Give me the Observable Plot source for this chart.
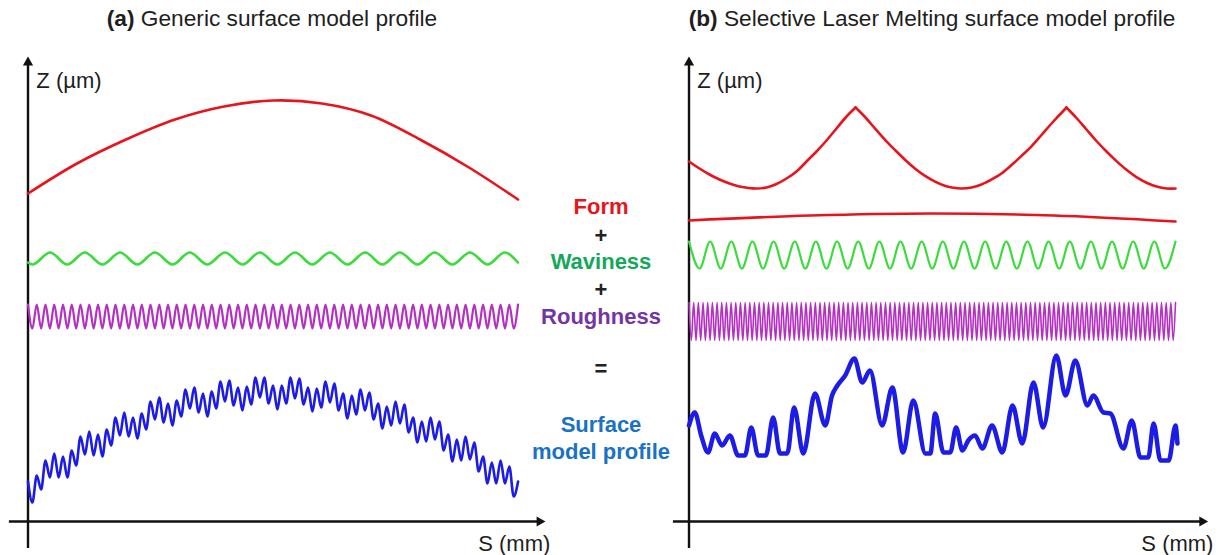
<!DOCTYPE html>
<html>
<head>
<meta charset="utf-8">
<script src="https://cdn.jsdelivr.net/npm/d3@7"></script>
<script src="https://cdn.jsdelivr.net/npm/@observablehq/plot@0.6"></script>
<style>
  body { margin: 0; background: #fff; }
  #wrap { position: relative; width: 1229px; height: 555px; overflow: hidden; background: #fff;
          font-family: "Liberation Sans", Arial, sans-serif; }
  .title { position: absolute; top: 5px; font-size: 22.7px; color: #1e1e1e; white-space: nowrap;
           transform: translateX(-50%); line-height: normal; }
  .mid { position: absolute; left: 601px; transform: translate(-50%, -50%); font-weight: bold;
         font-size: 22px; white-space: nowrap; line-height: 1; }
  #pa, #pb { position: absolute; top: 35px; }
  #pa { left: 0; }
  #pb { left: 665px; }
</style>
</head>
<body>
<div id="wrap">
  <div class="title" style="left:272px"><b>(a)</b> Generic surface model profile</div>
  <div class="title" style="left:932px"><b>(b)</b> Selective Laser Melting surface model profile</div>
  <div class="mid" style="top:207px;color:#e8141c">Form</div>
  <div class="mid" style="top:236px;color:#222">+</div>
  <div class="mid" style="top:262px;color:#13a85a">Waviness</div>
  <div class="mid" style="top:290px;color:#222">+</div>
  <div class="mid" style="top:317px;color:#7534a6">Roughness</div>
  <div class="mid" style="top:369px;color:#222">=</div>
  <div class="mid" style="top:425px;color:#1a72c4">Surface</div>
  <div class="mid" style="top:452px;color:#1a72c4">model profile</div>
  <div id="pa"></div>
  <div id="pb"></div>
</div>
<script>
// ---------- Panel (a): generic surface model profile ----------
// S in mm, Z in µm (arbitrary profile units)
const formAS = [0, 1, 2, 3, 4, 5, 6, 7, 8, 9, 10];
const formAZ = [32.8, 35.8, 38.2, 40.2, 41.5, 42.1, 41.8, 40.6, 38.2, 35.4, 32.2];

const wavAS = [0, 0.09, 0.45, 0.80, 1.16, 1.52, 1.88, 2.23, 2.59, 2.95, 3.30, 3.66, 4.02, 4.38, 4.73,
               5.09, 5.45, 5.80, 6.16, 6.52, 6.88, 7.23, 7.59, 7.95, 8.30, 8.66, 9.02, 9.38, 9.73, 10.0];
const wavAZ = [25.9, 25.7, 26.9, 25.7, 26.9, 25.7, 26.9, 25.7, 26.9, 25.7, 26.9, 25.7, 26.9, 25.7, 26.9,
               25.7, 26.9, 25.7, 26.9, 25.7, 26.9, 25.7, 26.9, 25.7, 26.9, 25.7, 26.9, 25.7, 26.9, 25.9];

// roughness extrema, spaced by half a roughness pitch
const roughAStep = 0.0893;
const roughAZ = [
  21.7, 19.3, 21.7, 19.3, 21.7, 19.3, 21.7, 19.3, 21.7, 19.3, 21.7, 19.3, 21.7, 19.3,
  21.7, 19.3, 21.7, 19.3, 21.7, 19.3, 21.7, 19.3, 21.7, 19.3, 21.7, 19.3, 21.7, 19.3,
  21.7, 19.3, 21.7, 19.3, 21.7, 19.3, 21.7, 19.3, 21.7, 19.3, 21.7, 19.3, 21.7, 19.3,
  21.7, 19.3, 21.7, 19.3, 21.7, 19.3, 21.7, 19.3, 21.7, 19.3, 21.7, 19.3, 21.7, 19.3,
  21.7, 19.3, 21.7, 19.3, 21.7, 19.3, 21.7, 19.3, 21.7, 19.3, 21.7, 19.3, 21.7, 19.3,
  21.7, 19.3, 21.7, 19.3, 21.7, 19.3, 21.7, 19.3, 21.7, 19.3, 21.7, 19.3, 21.7, 19.3,
  21.7, 19.3, 21.7, 19.3, 21.7, 19.3, 21.7, 19.3, 21.7, 19.3, 21.7, 19.3, 21.7, 19.3,
  21.7, 19.3, 21.7, 19.3, 21.7, 19.3, 21.7, 19.3, 21.7, 19.3, 21.7, 19.3, 21.7, 19.3,
  21.7];

// surface model profile extrema, same spacing as the roughness
const surfAStep = 0.0893;
const surfAZ = [
  4.0, 1.9, 4.6, 3.2, 6.1, 4.4, 6.8, 4.4, 6.5, 4.4,
  7.1, 5.6, 8.5, 6.7, 9.0, 6.6, 8.7, 6.5, 9.2, 7.6,
  10.4, 8.6, 10.9, 8.5, 10.4, 8.3, 10.8, 9.2, 12.0, 10.2,
  12.4, 9.9, 11.8, 9.6, 12.1, 10.5, 13.2, 11.3, 13.4, 10.9,
  12.8, 10.5, 13.0, 11.3, 14.0, 12.0, 14.1, 11.6, 13.4, 11.1,
  13.5, 11.7, 14.4, 12.4, 14.4, 11.8, 13.6, 11.2, 13.6, 11.8,
  14.4, 12.3, 14.3, 11.7, 13.4, 11.0, 13.3, 11.4, 14.0, 11.9,
  13.8, 11.1, 12.8, 10.3, 12.6, 10.7, 13.2, 11.1, 12.9, 10.2,
  11.8, 9.3, 11.5, 9.6, 12.0, 9.8, 11.7, 8.9, 10.4, 7.9,
  10.0, 8.0, 10.4, 8.2, 10.0, 7.1, 8.7, 6.0, 8.2, 6.1,
  8.5, 6.2, 7.9, 5.0, 6.5, 3.8, 5.9, 3.8, 6.1, 3.8,
  5.5, 2.5, 4.0];

// ---------- Panel (b): Selective Laser Melting surface model profile ----------
// form made of three arcs meeting in cusps
const formBArcS = [
  [0, 0.216, 0.421, 0.627, 0.832, 1.038, 1.223, 1.388, 1.593, 1.799, 2.004, 2.210, 2.415, 2.621, 2.826, 3.032, 3.238, 3.423],
  [3.423, 3.628, 3.834, 4.039, 4.245, 4.450, 4.656, 4.861, 5.067, 5.272, 5.437, 5.601, 5.807, 6.012, 6.218, 6.423, 6.629, 6.835, 7.040, 7.246, 7.451, 7.605, 7.759],
  [7.759, 7.965, 8.170, 8.376, 8.581, 8.787, 8.992, 9.198, 9.404, 9.609, 9.815, 10.0]
];
const formBArcZ = [
  [36.0, 35.3, 34.7, 34.2, 33.8, 33.5, 33.35, 33.3, 33.4, 33.75, 34.3, 35.0, 36.0, 37.0, 38.1, 39.3, 40.5, 41.4],
  [41.4, 40.4, 39.24, 38.12, 37.1, 36.13, 35.26, 34.53, 33.96, 33.55, 33.37, 33.3, 33.4, 33.7, 34.2, 34.8, 35.64, 36.56, 37.52, 38.65, 39.8, 40.6, 41.4],
  [41.4, 40.35, 39.2, 38.05, 37.0, 36.04, 35.17, 34.44, 33.88, 33.5, 33.3, 33.3]
];
const form2BS = [0, 2.5, 5.0, 7.5, 10.0];
const form2BZ = [30.1, 30.6, 30.8, 30.6, 30.0];

const wavBStep = 0.2174;
const wavBZ = [
  28.0, 25.3, 28.0, 25.3, 28.0, 25.3, 28.0, 25.3, 28.0, 25.3, 28.0, 25.3,
  28.0, 25.3, 28.0, 25.3, 28.0, 25.3, 28.0, 25.3, 28.0, 25.3, 28.0, 25.3,
  28.0, 25.3, 28.0, 25.3, 28.0, 25.3, 28.0, 25.3, 28.0, 25.3, 28.0, 25.3,
  28.0, 25.3, 28.0, 25.3, 28.0, 25.3, 28.0, 25.3, 28.0, 25.3, 28.0];

const roughBStep = 0.04808;
const roughBZ = [
  21.9, 18.1, 21.9, 18.1, 21.9, 18.1, 21.9, 18.1, 21.9, 18.1, 21.9, 18.1, 21.9, 18.1, 21.9, 18.1,
  21.9, 18.1, 21.9, 18.1, 21.9, 18.1, 21.9, 18.1, 21.9, 18.1, 21.9, 18.1, 21.9, 18.1, 21.9, 18.1,
  21.9, 18.1, 21.9, 18.1, 21.9, 18.1, 21.9, 18.1, 21.9, 18.1, 21.9, 18.1, 21.9, 18.1, 21.9, 18.1,
  21.9, 18.1, 21.9, 18.1, 21.9, 18.1, 21.9, 18.1, 21.9, 18.1, 21.9, 18.1, 21.9, 18.1, 21.9, 18.1,
  21.9, 18.1, 21.9, 18.1, 21.9, 18.1, 21.9, 18.1, 21.9, 18.1, 21.9, 18.1, 21.9, 18.1, 21.9, 18.1,
  21.9, 18.1, 21.9, 18.1, 21.9, 18.1, 21.9, 18.1, 21.9, 18.1, 21.9, 18.1, 21.9, 18.1, 21.9, 18.1,
  21.9, 18.1, 21.9, 18.1, 21.9, 18.1, 21.9, 18.1, 21.9, 18.1, 21.9, 18.1, 21.9, 18.1, 21.9, 18.1,
  21.9, 18.1, 21.9, 18.1, 21.9, 18.1, 21.9, 18.1, 21.9, 18.1, 21.9, 18.1, 21.9, 18.1, 21.9, 18.1,
  21.9, 18.1, 21.9, 18.1, 21.9, 18.1, 21.9, 18.1, 21.9, 18.1, 21.9, 18.1, 21.9, 18.1, 21.9, 18.1,
  21.9, 18.1, 21.9, 18.1, 21.9, 18.1, 21.9, 18.1, 21.9, 18.1, 21.9, 18.1, 21.9, 18.1, 21.9, 18.1,
  21.9, 18.1, 21.9, 18.1, 21.9, 18.1, 21.9, 18.1, 21.9, 18.1, 21.9, 18.1, 21.9, 18.1, 21.9, 18.1,
  21.9, 18.1, 21.9, 18.1, 21.9, 18.1, 21.9, 18.1, 21.9, 18.1, 21.9, 18.1, 21.9, 18.1, 21.9, 18.1,
  21.9, 18.1, 21.9, 18.1, 21.9, 18.1, 21.9, 18.1, 21.9, 18.1, 21.9, 18.1, 21.9, 18.1, 21.9, 18.1,
  21.9];

const surfBS = [0, 0.12, 0.25, 0.39, 0.53, 0.68, 0.84, 1.01, 1.15, 1.28, 1.42, 1.58, 1.73, 1.87, 2.02,
  2.16, 2.35, 2.59, 2.80, 2.94, 3.05, 3.21, 3.40, 3.56, 3.72, 3.97, 4.18, 4.40, 4.61, 4.86, 4.96,
  5.06, 5.23, 5.37, 5.49, 5.62, 5.74, 5.88, 6.03, 6.23, 6.44, 6.65, 6.85, 7.08, 7.28, 7.55, 7.74,
  7.94, 8.19, 8.31, 8.52, 8.66, 8.93, 9.10, 9.28, 9.44, 9.55, 9.69, 9.86, 10.0, 10.04];
const surfBZ = [9.6, 10.9, 8.6, 6.9, 8.8, 7.6, 8.6, 6.6, 6.6, 9.4, 6.6, 6.6, 10.4, 6.8, 6.8,
  11.4, 6.8, 12.8, 9.6, 12.6, 13.6, 14.6, 16.3, 13.9, 15.1, 9.6, 13.4, 6.9, 12.1, 6.8, 6.8,
  10.8, 6.9, 6.9, 9.4, 7.1, 8.1, 8.6, 7.3, 9.6, 6.9, 11.6, 7.8, 13.9, 9.4, 16.6, 12.6,
  16.1, 11.6, 12.6, 10.9, 10.8, 7.3, 10.1, 6.4, 6.4, 9.8, 6.1, 6.1, 9.6, 7.8];

// axis labels
const zLabel = "Z (µm)";
const sLabel = "S (mm)";

// ---------- drawing ----------
const FONT = '"Liberation Sans", Arial, sans-serif';
const RED = "#e8141c", GREEN = "#3cdc3c", MAGENTA = "#b52fc2", BLUE = "#1c1ce6", INK = "#111";
const zDomain = [-3.4, 48.6];      // 10 px per µm, 520 px tall
const zAxis = [-2.7, 45.9];        // extent of the vertical axis arrow

const pts = (S, Z) => S.map((s, i) => ({S: s, Z: Z[i]}));
const stepped = (Z, step) => Z.map((z, i) => ({S: i * step, Z: z}));

function axes(sAxis, labelS) {
  return [
    Plot.ruleX([{S: 0, z1: zAxis[0], z2: zAxis[1]}], {x: "S", y1: "z1", y2: "z2", stroke: INK, strokeWidth: 2.4}),
    Plot.ruleY([{Z: 0, s1: sAxis[0], s2: sAxis[1]}], {y: "Z", x1: "s1", x2: "s2", stroke: INK, strokeWidth: 2.4}),
    Plot.dot([{S: 0, Z: zAxis[1]}], {x: "S", y: "Z", symbol: "triangle", r: 3.8, fill: INK, stroke: "none"}),
    Plot.dot([{S: sAxis[1], Z: 0}], {x: "S", y: "Z", symbol: "triangle", r: 3.8, fill: INK, stroke: "none", rotate: 90}),
    Plot.text([{S: 0.17, Z: 44.1, t: zLabel}], {x: "S", y: "Z", text: "t", textAnchor: "start", fontSize: 22, fill: "#1e1e1e"}),
    Plot.text([{S: labelS, Z: -2.2, t: sLabel}], {x: "S", y: "Z", text: "t", textAnchor: "end", fontSize: 22, fill: "#1e1e1e"})
  ];
}

const plotA = Plot.plot({
  width: 560, height: 520, margin: 0,
  x: {domain: [-27.5 / 49, (560 - 27.5) / 49], axis: null},
  y: {domain: zDomain, axis: null},
  style: {fontFamily: FONT, background: "transparent", overflow: "visible"},
  marks: [
    ...axes([-0.38, 10.44], 10.66),
    Plot.line(pts(formAS, formAZ), {x: "S", y: "Z", stroke: RED, strokeWidth: 2.6, curve: "catmull-rom"}),
    Plot.line(pts(wavAS, wavAZ), {x: "S", y: "Z", stroke: GREEN, strokeWidth: 2.6, curve: "monotone-x"}),
    Plot.line(stepped(roughAZ, roughAStep), {x: "S", y: "Z", stroke: MAGENTA, strokeWidth: 2.2, curve: "monotone-x"}),
    Plot.line(stepped(surfAZ, surfAStep), {x: "S", y: "Z", stroke: BLUE, strokeWidth: 2.6, curve: "monotone-x"})
  ]
});
document.getElementById("pa").appendChild(plotA);

const arcs = formBArcS.flatMap((S, k) => S.map((s, i) => ({S: s, Z: formBArcZ[k][i], arc: k})));

const plotB = Plot.plot({
  width: 564, height: 520, margin: 0,
  x: {domain: [(665 - 688.5) / 48.65, (1229 - 688.5) / 48.65], axis: null},
  y: {domain: zDomain, axis: null},
  style: {fontFamily: FONT, background: "transparent", overflow: "visible"},
  marks: [
    ...axes([-0.32, 10.55], 10.78),
    Plot.line(arcs, {x: "S", y: "Z", z: "arc", stroke: RED, strokeWidth: 2.6, curve: "catmull-rom"}),
    Plot.line(pts(form2BS, form2BZ), {x: "S", y: "Z", stroke: RED, strokeWidth: 2.6, curve: "catmull-rom"}),
    Plot.line(stepped(wavBZ, wavBStep), {x: "S", y: "Z", stroke: GREEN, strokeWidth: 2.2, curve: "monotone-x"}),
    Plot.line(stepped(roughBZ, roughBStep), {x: "S", y: "Z", stroke: MAGENTA, strokeWidth: 1.6, curve: "monotone-x"}),
    Plot.line(pts(surfBS, surfBZ), {x: "S", y: "Z", stroke: BLUE, strokeWidth: 4.5, curve: "monotone-x", strokeLinejoin: "round"})
  ]
});
document.getElementById("pb").appendChild(plotB);
</script>
</body>
</html>
